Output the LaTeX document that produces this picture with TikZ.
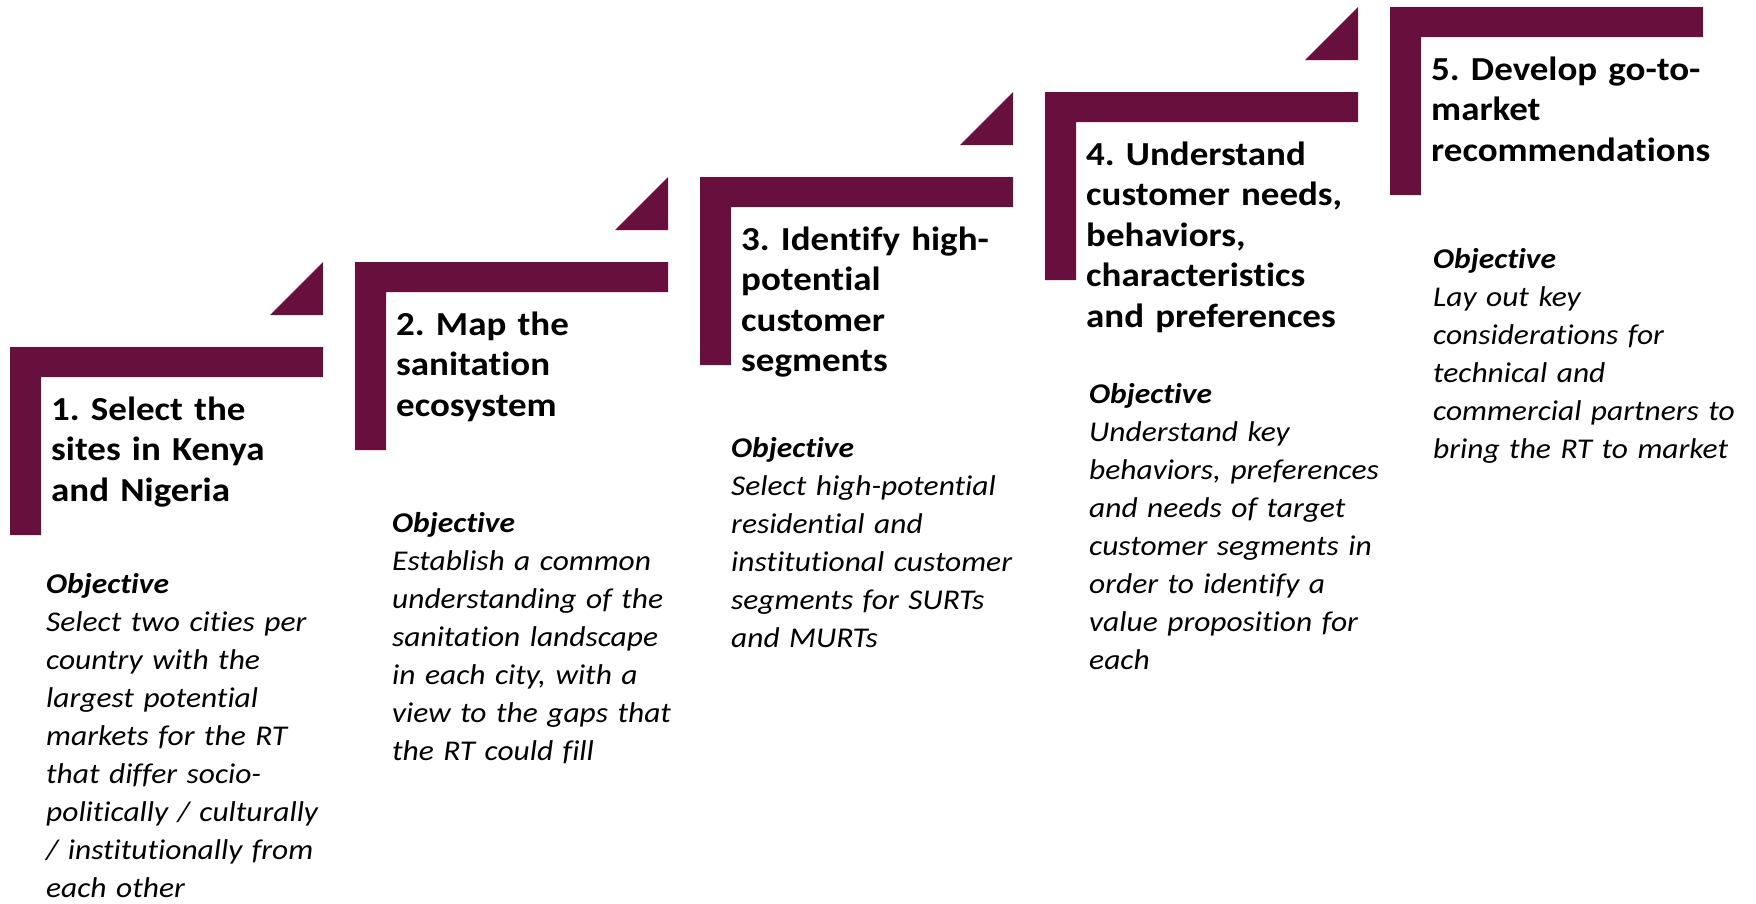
\documentclass[tikz,border=0pt]{standalone}
\usepackage{fontspec}
\setmainfont{Carlito}[FakeStretch=1.1, Ligatures=NoCommon]
\frenchspacing
\definecolor{plum}{RGB}{103,16,62}
\tikzset{
  steptitle/.style={anchor=base west, inner sep=0pt, text width=340pt, align=left,
                    font=\fontsize{33.6}{40.5}\selectfont\bfseries},
  objtext/.style={anchor=base west, inner sep=0pt, text width=340pt, align=left,
                  font=\fontsize{28.6}{38}\selectfont\itshape},
}
\begin{document}
\begin{tikzpicture}[x=1pt,y=-1pt]
  \useasboundingbox (0,0) rectangle (1756,903);

  \foreach \txt [count=\i from 1, evaluate=\i as \l using int(10+345*(\i-1)),
                                  evaluate=\i as \h using int(347-85*(\i-1))]
  in {{1. Select the\\sites in Kenya\\and Nigeria},
      {2. Map the\\sanitation\\ecosystem},
      {3. Identify high-\\potential\\customer\\segments},
      {4. Understand\\customer needs,\\behaviors,\\characteristics\\and preferences},
      {5. Develop go-to-\\market\\recommendations}}
  {
      \fill[plum] (\l,\h) -- ++(313,0) -- ++(0,30) -- ++(-282,0) -- ++(0,158) -- ++(-31,0) -- cycle;
      \ifnum\i<5
        \fill[plum] (\l+260,\h-32) -- ++(53,0) -- ++(0,-53) -- cycle;
      \fi
      \node[steptitle] (t\i) at (\l+41,\h+73) {\txt};
  }

  \node[objtext] (o1) at (46,593)   {\textbf{Objective}\\Select two cities per\\country with the\\largest potential\\markets for the RT\\that differ socio-\\politically / culturally\\/ institutionally from\\each other};
  \node[objtext] (o2) at (392,532)  {\textbf{Objective}\\Establish a common\\understanding of the\\sanitation landscape\\in each city, with a\\view to the gaps that\\the RT could fill};
  \node[objtext] (o3) at (731,457)  {\textbf{Objective}\\Select high-potential\\residential and\\institutional customer\\segments for SURTs\\and MURTs};
  \node[objtext] (o4) at (1089,403) {\textbf{Objective}\\Understand key\\behaviors, preferences\\and needs of target\\customer segments in\\order to identify a\\value proposition for\\each};
  \node[objtext] (o5) at (1433,268) {\textbf{Objective}\\Lay out key\\considerations for\\technical and\\commercial partners to\\bring the RT to market};

\end{tikzpicture}
\end{document}
